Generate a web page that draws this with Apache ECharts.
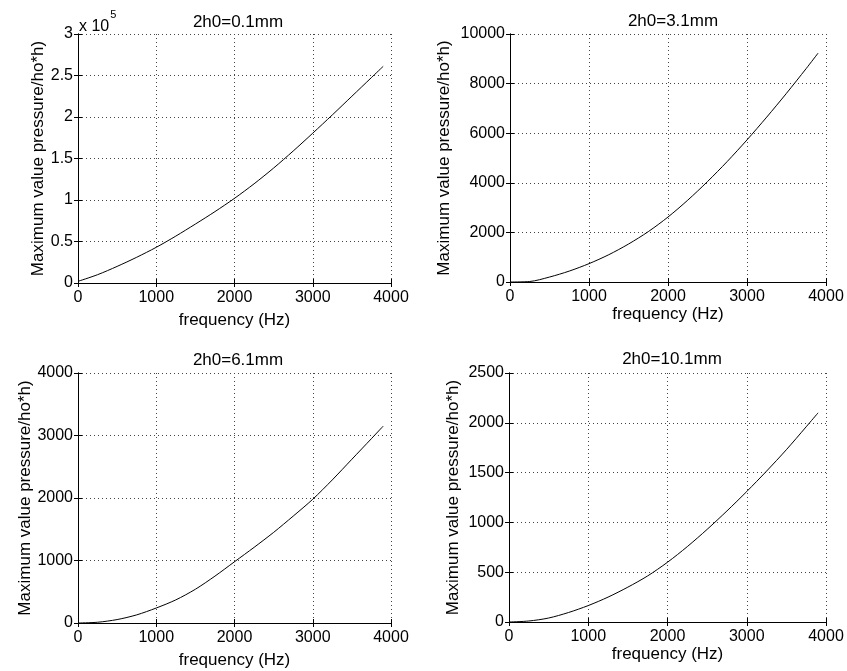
<!DOCTYPE html>
<html>
<head>
<meta charset="utf-8">
<script src="https://cdn.jsdelivr.net/npm/echarts@6/dist/echarts.min.js"></script>
<style>html,body{margin:0;padding:0;background:#fff;}#c{width:847px;height:671px;}</style>
</head>
<body>
<div id="c"></div>
<script>
const freq = [0, 250, 500, 750, 1000, 1250, 1500, 1750, 2000, 2250, 2500, 2750, 3000, 3250, 3500, 3750, 3900];
const titles = ['2h0=0.1mm', '2h0=3.1mm', '2h0=6.1mm', '2h0=10.1mm'];
// plot 1 values in units of 1e5
const p01 = [0.02, 0.1, 0.2, 0.31, 0.43, 0.565, 0.71, 0.86, 1.02, 1.195, 1.385, 1.59, 1.805, 2.025, 2.25, 2.475, 2.61];
const p31 = [0, 20, 200, 440, 740, 1100, 1530, 2030, 2620, 3300, 4050, 4860, 5730, 6650, 7610, 8610, 9230];
const p61 = [0, 12, 55, 130, 240, 370, 540, 750, 980, 1210, 1450, 1710, 1980, 2290, 2620, 2950, 3150];
const p101 = [0, 10, 40, 95, 165, 250, 350, 463, 600, 757, 930, 1115, 1310, 1515, 1730, 1960, 2100];
const yMax = [3, 10000, 4000, 2500];
const yStep = [0.5, 2000, 1000, 500];
const xLabel = 'frequency (Hz)';
const yLabel = 'Maximum value pressure/ho*h)';

const series = [p01, p31, p61, p101];
const grids = [
  {left: 78, top: 34, width: 313, height: 249},
  {left: 510, top: 34, width: 316, height: 248},
  {left: 78, top: 373, width: 313, height: 250},
  {left: 509, top: 373, width: 317, height: 249}
];
const yNameGap = [31, 57, 41, 47];
const xNameGap = [29, 18, 29, 13];
const titlePos = [[233, 9], [668, 8], [233, 347], [667, 346]];
const font = 'Liberation Sans, Arial, sans-serif';
const txt = '#000';
const gridLine = {show: true, lineStyle: {color: '#444', type: [1, 3], width: 1}};
const fmt = v => String(v);

const xAxis = [], yAxis = [], ser = [], title = [];
grids.forEach((g, i) => {
  xAxis.push({
    type: 'value', gridIndex: i, min: 0, max: 4000, interval: 1000,
    name: xLabel, nameLocation: 'middle', nameGap: xNameGap[i],
    nameTextStyle: {fontFamily: font, fontSize: 17, color: txt},
    axisLine: {show: true, lineStyle: {color: '#000', width: 1}},
    axisTick: {show: true, inside: true, length: 4, lineStyle: {color: '#000'}},
    axisLabel: {fontFamily: font, fontSize: 16, color: txt, margin: 7, formatter: fmt},
    splitLine: gridLine
  });
  xAxis.push({
    type: 'value', gridIndex: i, position: 'top', min: 0, max: 4000, interval: 1000,
    axisLine: {show: true, lineStyle: {color: '#000', width: 1}},
    axisTick: {show: true, inside: true, length: 4, lineStyle: {color: '#000'}},
    axisLabel: {show: false}, splitLine: {show: false}
  });
  yAxis.push({
    type: 'value', gridIndex: i, min: 0, max: yMax[i], interval: yStep[i],
    name: yLabel, nameLocation: 'middle', nameGap: yNameGap[i],
    nameTextStyle: {fontFamily: font, fontSize: 17, color: txt},
    axisLine: {show: true, lineStyle: {color: '#000', width: 1}},
    axisTick: {show: true, inside: true, length: 4, lineStyle: {color: '#000'}},
    axisLabel: {fontFamily: font, fontSize: 16, color: txt, margin: 5, formatter: fmt},
    splitLine: gridLine
  });
  yAxis.push({
    type: 'value', gridIndex: i, position: 'right', min: 0, max: yMax[i], interval: yStep[i],
    axisLine: {show: true, lineStyle: {color: '#000', width: 1}},
    axisTick: {show: true, inside: true, length: 4, lineStyle: {color: '#000'}},
    axisLabel: {show: false}, splitLine: {show: false}
  });
  ser.push({
    type: 'line', xAxisIndex: i * 2, yAxisIndex: i * 2,
    data: freq.map((f, k) => [f, series[i][k]]),
    smooth: 0.3, showSymbol: false, symbol: 'none',
    lineStyle: {color: '#000', width: 1}
  });
  title.push({
    text: titles[i], left: titlePos[i][0], top: titlePos[i][1], textAlign: 'center',
    textStyle: {fontFamily: font, fontSize: 17, fontWeight: 'normal', color: txt}
  });
});

const chart = echarts.init(document.getElementById('c'), null, {renderer: 'canvas'});
chart.setOption({
  backgroundColor: '#fff',
  animation: false,
  title: title,
  grid: grids.map(g => Object.assign({containLabel: false}, g)),
  xAxis: xAxis,
  yAxis: yAxis,
  series: ser,
  graphic: [{
    type: 'text', left: 79, top: 9,
    style: {
      text: '{a|x 10}{b|5}',
      rich: {
        a: {fontFamily: font, fontSize: 16, fill: txt, verticalAlign: 'bottom', lineHeight: 26},
        b: {fontFamily: font, fontSize: 11, fill: txt, verticalAlign: 'top', lineHeight: 26, padding: [0, 0, 12, 1]}
      }
    }
  }]
});
</script>
</body>
</html>
